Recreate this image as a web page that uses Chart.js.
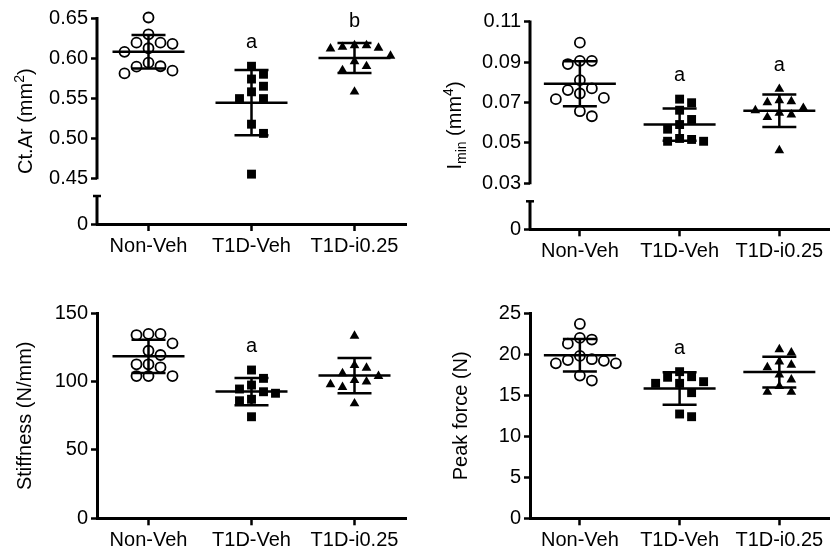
<!DOCTYPE html>
<html><head><meta charset="utf-8">
<script src="https://cdn.jsdelivr.net/npm/chart.js@4.4.1/dist/chart.umd.min.js"></script>
<style>
html,body{margin:0;padding:0;background:#fff;}
#wrap{position:relative;width:836px;height:551px;overflow:hidden;background:#fff;}
canvas{position:absolute;}
</style></head><body>
<div id="wrap">
<canvas id="c1" width="418" height="275" style="left:0;top:0"></canvas>
<canvas id="c2" width="418" height="275" style="left:418px;top:0"></canvas>
<canvas id="c3" width="418" height="271" style="left:0;top:280px"></canvas>
<canvas id="c4" width="418" height="271" style="left:418px;top:280px"></canvas>
</div>
<script>
// ---------- data ----------
const groups = ['Non-Veh', 'T1D-Veh', 'T1D-i0.25'];

const ctArNonVeh = [0.651, 0.630, 0.6195, 0.6125, 0.608, 0.618, 0.6195, 0.5945, 0.5895, 0.581, 0.5845, 0.590];
const ctArT1DVeh = [0.590, 0.574, 0.580, 0.558, 0.565, 0.5495, 0.5495, 0.5175, 0.506, 0.455];
const ctArT1Di   = [0.616, 0.616, 0.614, 0.613, 0.612, 0.603, 0.596, 0.590, 0.585, 0.558];
const ctArTicks  = [0.45, 0.50, 0.55, 0.60, 0.65];
const ctArLetters = ['', 'a', 'b'];

const iminNonVeh = [0.0996, 0.0906, 0.0890, 0.0906, 0.0810, 0.0761, 0.0722, 0.0716, 0.0744, 0.0769, 0.0631, 0.0656];
const iminT1DVeh = [0.0716, 0.0698, 0.0661, 0.0615, 0.0590, 0.0567, 0.0516, 0.0507, 0.0507, 0.0521];
const iminT1Di   = [0.0766, 0.0710, 0.0705, 0.0700, 0.0672, 0.0660, 0.0648, 0.0639, 0.0626, 0.0462];
const iminTicks  = [0.03, 0.05, 0.07, 0.09, 0.11];
const iminLetters = ['', 'a', 'a'];

const stiffNonVeh = [134.9, 134.1, 134.9, 128.0, 122.6, 119.5, 112.7, 112.7, 110.5, 104.1, 104.1, 104.1];
const stiffT1DVeh = [108.5, 102.4, 97.5, 92.6, 91.5, 94.6, 87.1, 86.0, 74.3];
const stiffT1Di   = [133.5, 112, 110, 106, 104, 101, 100, 98, 96, 84];
const stiffTicks  = [0, 50, 100, 150];
const stiffLetters = ['', 'a', ''];

const peakNonVeh = [23.7, 22.0, 21.8, 21.3, 19.8, 19.3, 18.9, 18.9, 19.2, 19.4, 16.8, 17.4];
const peakT1DVeh = [17.88, 16.66, 16.46, 17.2, 17.27, 16.46, 15.32, 12.39, 12.72];
const peakT1Di   = [20.6, 20.2, 19.1, 18.4, 18.7, 17.5, 16.9, 16.1, 15.4, 15.4];
const peakTicks  = [0, 5, 10, 15, 20, 25];
const peakLetters = ['', 'a', ''];

// ---------- style ----------
const FONT = "'Liberation Sans', Arial, Helvetica, sans-serif";
const FS = 20;
const markers = [
  {pointStyle: 'circle', pointRadius: 5, borderWidth: 1.8, backgroundColor: 'rgba(0,0,0,0)', borderColor: '#000'},
  {pointStyle: 'rect', pointRadius: 6.3, borderWidth: 0, backgroundColor: '#000', borderColor: '#000'},
  {pointStyle: 'triangle', pointRadius: 5.6, borderWidth: 0, backgroundColor: '#000', borderColor: '#000'}
];

function mean(a){ return a.reduce((s,v)=>s+v,0)/a.length; }
function sd(a){ const m = mean(a); return Math.sqrt(a.reduce((s,v)=>s+(v-m)*(v-m),0)/(a.length-1)); }

const errorBars = {
  id: 'errorBars',
  afterDatasetsDraw(chart){
    const ctx = chart.ctx, xs = chart.scales.x, ys = chart.scales.y;
    ctx.save();
    ctx.strokeStyle = '#000'; ctx.lineWidth = 2.5; ctx.lineCap = 'butt';
    chart.data.datasets.forEach((ds, i) => {
      const m = mean(ds.values), s = sd(ds.values);
      const cx = xs.getPixelForValue(i + 1);
      const ym = ys.getPixelForValue(m), yt = ys.getPixelForValue(m + s), yb = ys.getPixelForValue(m - s);
      ctx.beginPath();
      ctx.moveTo(cx - 36, ym); ctx.lineTo(cx + 36, ym);
      ctx.moveTo(cx, yt); ctx.lineTo(cx, yb);
      ctx.moveTo(cx - 17, yt); ctx.lineTo(cx + 17, yt);
      ctx.moveTo(cx - 17, yb); ctx.lineTo(cx + 17, yb);
      ctx.stroke();
    });
    ctx.restore();
  }
};

const decor = {
  id: 'decor',
  afterDraw(chart, args, o){
    const ctx = chart.ctx, ca = chart.chartArea, ys = chart.scales.y, xs = chart.scales.x;
    ctx.save();
    // broken axis
    if (o.breakAt !== undefined) {
      const x = ca.left;
      ctx.strokeStyle = '#000'; ctx.lineWidth = 3; ctx.lineCap = 'butt';
      ctx.beginPath();
      ctx.moveTo(x, ys.getPixelForValue(ys.max) - 1.2);
      ctx.lineTo(x, ys.getPixelForValue(o.breakAt) + 1.2);
      const yb = ys.getPixelForValue(ys.min);
      ctx.moveTo(x, yb);
      ctx.lineTo(x, yb - 28);
      ctx.stroke();
      ctx.lineWidth = 2.5;
      ctx.beginPath();
      ctx.moveTo(x - 4, yb - 28); ctx.lineTo(x + 4, yb - 28);
      ctx.stroke();
    }
    // significance letters
    ctx.fillStyle = '#000';
    ctx.font = FS + 'px ' + FONT;
    ctx.textAlign = 'center'; ctx.textBaseline = 'alphabetic';
    chart.data.datasets.forEach((ds, i) => {
      const L = o.letters[i];
      if (!L) return;
      const top = ys.getPixelForValue(Math.max(...ds.values));
      ctx.fillText(L, xs.getPixelForValue(i + 1), top - 18);
    });
    // y title
    const parts = o.title;
    const fonts = parts.map(p => (p.sub || p.sup) ? Math.round(FS * 0.68) : FS);
    let total = 0;
    parts.forEach((p, k) => { ctx.font = fonts[k] + 'px ' + FONT; total += ctx.measureText(p.t).width; });
    const cy = (ca.top + ca.bottom) / 2;
    ctx.translate(o.titleX, cy);
    ctx.rotate(-Math.PI / 2);
    ctx.textAlign = 'left';
    let px = -total / 2;
    parts.forEach((p, k) => {
      ctx.font = fonts[k] + 'px ' + FONT;
      let dy = FS * 0.36;
      if (p.sup) dy -= FS * 0.42;
      if (p.sub) dy += FS * 0.22;
      ctx.fillText(p.t, px, dy);
      px += ctx.measureText(p.t).width;
    });
    ctx.restore();
  }
};

function makePanel(id, series, cfg){
  const ticks = cfg.ticks;
  const lo = ticks[0], hi = ticks[ticks.length - 1];
  const broken = !!cfg.broken;
  const yMin = broken ? lo - 0.287 * (hi - lo) : lo;
  const tickVals = broken ? [yMin].concat(ticks) : ticks.slice();
  const tickLabels = tickVals.map((v, i) => (broken && i === 0) ? '0' : v.toFixed(cfg.decimals));
  const datasets = series.map((vals, i) => Object.assign({
    label: groups[i],
    values: vals,
    clip: false,
    data: vals.map(v => ({x: i + 1, y: v}))
  }, markers[i]));
  const tickFont = {family: FONT, size: FS};
  const chart = new Chart(document.getElementById(id), {
    type: 'scatter',
    data: {datasets},
    options: {
      responsive: false, animation: false, events: [],
      layout: {padding: {left: 0, right: cfg.padRight, top: cfg.padTop, bottom: 0}},
      plugins: {legend: {display: false}, tooltip: {enabled: false},
        decor: {breakAt: broken ? lo : undefined, letters: cfg.letters, title: cfg.title, titleX: cfg.titleX}},
      scales: {
        x: {type: 'linear', min: 0.5, max: 3.5,
          afterBuildTicks: s => { s.ticks = [1, 2, 3].map(v => ({value: v})); },
          afterFit: s => { s.height = cfg.xHeight; },
          ticks: {callback: (v, i) => groups[i], font: tickFont, color: '#000', padding: 3, maxRotation: 0, autoSkip: false},
          grid: {display: true, drawOnChartArea: false, drawTicks: true, tickLength: 7, tickWidth: 2.5, color: '#000'},
          border: {display: true, width: 3, color: '#000'}
        },
        y: {type: 'linear', min: yMin, max: hi,
          afterBuildTicks: s => { s.ticks = tickVals.map(v => ({value: v})); },
          afterFit: s => { s.width = cfg.yWidth; },
          ticks: {callback: (v, i) => tickLabels[i], font: tickFont, color: '#000', padding: 3, autoSkip: false},
          grid: {display: true, drawOnChartArea: false, drawTicks: true, tickLength: 6, tickWidth: 2.5, color: '#000'},
          border: {display: !broken, width: 3, color: '#000'}
        }
      }
    },
    plugins: [errorBars, decor]
  });
  // spread overlapping points horizontally (beeswarm) using the chart's own scales
  const xs = chart.scales.x, ys = chart.scales.y;
  const pxUnit = xs.getPixelForValue(1) - xs.getPixelForValue(0);
  const STEP = 12, MIND = 11;
  chart.data.datasets.forEach((ds, gi) => {
    const vals = ds.values;
    const order = vals.map((v, i) => i).sort((a, b) => vals[b] - vals[a]);
    const placed = [], offs = [];
    order.forEach(i => {
      const py = ys.getPixelForValue(vals[i]);
      for (let k = 0; k < 60; k++) {
        const m = k === 0 ? 0 : (k % 2 ? Math.ceil(k / 2) : -Math.ceil(k / 2));
        const px = m * STEP;
        if (placed.every(p => Math.hypot(p.x - px, p.y - py) >= MIND)) { placed.push({x: px, y: py}); offs[i] = px; break; }
      }
    });
    ds.data = vals.map((v, i) => ({x: gi + 1 + offs[i] / pxUnit, y: v}));
  });
  chart.update('none');
  return chart;
}

makePanel('c1', [ctArNonVeh, ctArT1DVeh, ctArT1Di], {
  ticks: ctArTicks, broken: true, decimals: 2, letters: ctArLetters,
  title: [{t: 'Ct.Ar (mm'}, {t: '2', sup: true}, {t: ')'}],
  titleX: 25, yWidth: 97, padRight: 12, padTop: 18.3, xHeight: 51
});
makePanel('c2', [iminNonVeh, iminT1DVeh, iminT1Di], {
  ticks: iminTicks, broken: true, decimals: 2, letters: iminLetters,
  title: [{t: 'I'}, {t: 'min', sub: true}, {t: ' (mm'}, {t: '4', sup: true}, {t: ')'}],
  titleX: 36, yWidth: 112, padRight: 0, padTop: 21.7, xHeight: 45.7
});
makePanel('c3', [stiffNonVeh, stiffT1DVeh, stiffT1Di], {
  ticks: stiffTicks, broken: false, decimals: 0, letters: stiffLetters,
  title: [{t: 'Stiffness (N/mm)'}],
  titleX: 24, yWidth: 97, padRight: 12, padTop: 33.3, xHeight: 32.7
});
makePanel('c4', [peakNonVeh, peakT1DVeh, peakT1Di], {
  ticks: peakTicks, broken: false, decimals: 0, letters: peakLetters,
  title: [{t: 'Peak force (N)'}],
  titleX: 42, yWidth: 112, padRight: 0, padTop: 33.3, xHeight: 32.7
});
</script>
</body></html>
